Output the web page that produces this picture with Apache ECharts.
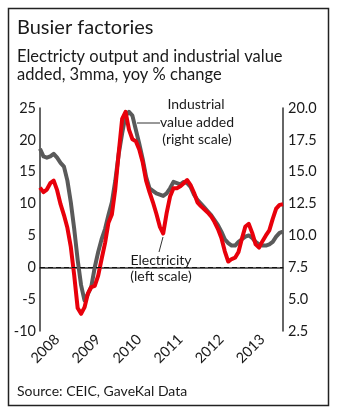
<!DOCTYPE html>
<html>
<head>
<meta charset="utf-8">
<script src="https://cdn.jsdelivr.net/npm/echarts@6/dist/echarts.min.js"></script>
<style>
  html, body { margin: 0; padding: 0; background: #fff; }
  #chart { width: 337px; height: 417px; }
</style>
</head>
<body>
<div id="chart"></div>
<script>
// Monthly observations, Jan 2008 - Dec 2013
const years = ['2008', '2009', '2010', '2011', '2012', '2013'];
const months = ['01', '02', '03', '04', '05', '06', '07', '08', '09', '10', '11', '12'];
const categories = years.flatMap(y => months.map(m => y + '-' + m));

// Electricity output, 3mma yoy % (left scale)
const electricity = [
  12.5, 11.8, 12.2, 13.2, 13.6, 12.1, 9.9, 8.2, 6.2, 3.2, -1.3, -6.4,
  -7.3, -6.3, -4.1, -3.1, -2.9, -1.3, 1.3, 3.8, 7.0, 8.3, 12.3, 18.0,
  23.3, 24.4, 21.6, 20.1, 19.8, 18.5, 16.5, 13.6, 11.8, 10.2, 8.4, 6.4,
  5.3, 8.5, 11.1, 12.4, 12.4, 12.7, 13.2, 13.7, 12.9, 11.7, 10.2, 9.6,
  9.1, 8.6, 8.0, 7.1, 6.0, 4.6, 2.5, 0.9, 1.3, 1.5, 2.4, 4.5,
  6.4, 6.8, 5.4, 3.6, 3.1, 4.1, 5.0, 5.8, 7.6, 9.2, 9.8, 9.9
];

// Industrial value added, 3mma yoy % (right scale)
const industrialVA = [
  16.8, 16.2, 16.1, 16.2, 16.4, 16.1, 15.7, 15.4, 14.3, 12.6, 10.5, 8.1,
  6.1, 4.9, 5.4, 6.0, 7.5, 8.7, 9.7, 10.5, 11.6, 12.6, 14.3, 16.4,
  18.0, 19.4, 19.7, 19.4, 18.3, 17.2, 16.0, 14.6, 13.7, 13.5, 13.3, 13.2,
  13.1, 13.3, 13.7, 14.2, 14.1, 14.0, 14.2, 14.1, 13.8, 13.2, 12.8, 12.5,
  12.2, 11.9, 11.6, 11.2, 10.8, 10.3, 9.7, 9.4, 9.2, 9.2, 9.5, 9.7,
  9.9, 10.0, 9.8, 9.5, 9.3, 9.2, 9.2, 9.3, 9.5, 9.9, 10.2, 10.3
];

const leftTicks = [-10, -5, 0, 5, 10, 15, 20, 25];
const rightTicks = [2.5, 5.0, 7.5, 10.0, 12.5, 15.0, 17.5, 20.0];

const FONT = 'Lato, "Open Sans", sans-serif';
const INK = '#1a1a1a';
const AXIS = '#333';

const chart = echarts.init(document.getElementById('chart'), null, { renderer: 'canvas' });

chart.setOption({
  animation: false,
  backgroundColor: '#fff',
  grid: { left: 40, right: 54, top: 108, bottom: 86, containLabel: false },
  xAxis: {
    type: 'category',
    data: categories,
    boundaryGap: false,
    axisLine: { lineStyle: { color: AXIS, width: 1.5 } },
    axisTick: { show: false },
    axisLabel: {
      interval: (i) => i % 12 === 5,
      formatter: (v) => v.slice(0, 4),
      rotate: 45,
      margin: 6,
      fontSize: 14.5,
      fontFamily: FONT,
      color: INK
    },
    splitLine: { show: false }
  },
  yAxis: [
    {
      type: 'value',
      position: 'left',
      min: leftTicks[0],
      max: leftTicks[leftTicks.length - 1],
      interval: 5,
      axisLine: { show: true, lineStyle: { color: AXIS, width: 1.5 } },
      axisTick: { show: false },
      axisLabel: { margin: 4, fontSize: 14.5, fontFamily: FONT, color: INK },
      splitLine: { show: false }
    },
    {
      type: 'value',
      position: 'right',
      min: rightTicks[0],
      max: rightTicks[rightTicks.length - 1],
      interval: 2.5,
      axisLine: { show: true, lineStyle: { color: AXIS, width: 1.5 } },
      axisTick: { show: false },
      axisLabel: {
        margin: 5, fontSize: 14.5, fontFamily: FONT, color: INK,
        formatter: (v) => v.toFixed(1)
      },
      splitLine: { show: false }
    }
  ],
  series: [
    {
      name: 'Industrial value added',
      type: 'line',
      yAxisIndex: 1,
      data: industrialVA,
      showSymbol: false,
      lineStyle: { color: '#5a5a5a', width: 4, join: 'round' },
      z: 2
    },
    {
      name: 'Electricity',
      type: 'line',
      yAxisIndex: 0,
      data: electricity,
      showSymbol: false,
      lineStyle: { color: '#e8000b', width: 4, join: 'round' },
      z: 3,
      markLine: {
        silent: true,
        symbol: 'none',
        label: { show: false },
        lineStyle: { color: '#111', width: 1, type: [5, 3] },
        data: [{ yAxis: 0 }]
      }
    }
  ],
  graphic: [
    {
      type: 'rect',
      shape: { x: 8.5, y: 8.5, width: 320, height: 397 },
      style: { fill: 'none', stroke: '#222', lineWidth: 1.5 },
      silent: true
    },
    {
      type: 'text', left: 17, top: 18,
      style: { text: 'Busier factories', font: '20px ' + FONT, fill: INK }
    },
    {
      type: 'text', left: 17, top: 47,
      style: {
        text: 'Electricty output and industrial value\nadded, 3mma, yoy % change',
        font: '16.5px ' + FONT, fill: INK, lineHeight: 18.5
      }
    },
    {
      type: 'text', x: 196, y: 104,
      style: { text: 'Industrial', font: '14px ' + FONT, fill: INK, textAlign: 'center', textVerticalAlign: 'middle' }
    },
    {
      type: 'text', x: 197, y: 122,
      style: { text: 'value added', font: '14px ' + FONT, fill: INK, textAlign: 'center', textVerticalAlign: 'middle' }
    },
    {
      type: 'text', x: 197, y: 139,
      style: { text: '(right scale)', font: '14px ' + FONT, fill: INK, textAlign: 'center', textVerticalAlign: 'middle' }
    },
    {
      type: 'line',
      shape: { x1: 137, y1: 123, x2: 160, y2: 123 },
      style: { stroke: '#333', lineWidth: 1 }
    },
    {
      type: 'text', x: 161, y: 260,
      style: { text: 'Electricity', font: '14px ' + FONT, fill: INK, textAlign: 'center', textVerticalAlign: 'middle' }
    },
    {
      type: 'text', x: 161, y: 276,
      style: { text: '(left scale)', font: '14px ' + FONT, fill: INK, textAlign: 'center', textVerticalAlign: 'middle' }
    },
    {
      type: 'line',
      shape: { x1: 163, y1: 237, x2: 159, y2: 252 },
      style: { stroke: '#333', lineWidth: 1 }
    },
    {
      type: 'text', left: 17, top: 384,
      style: { text: 'Source: CEIC, GaveKal Data', font: '14px ' + FONT, fill: INK }
    }
  ]
});
</script>
</body>
</html>
